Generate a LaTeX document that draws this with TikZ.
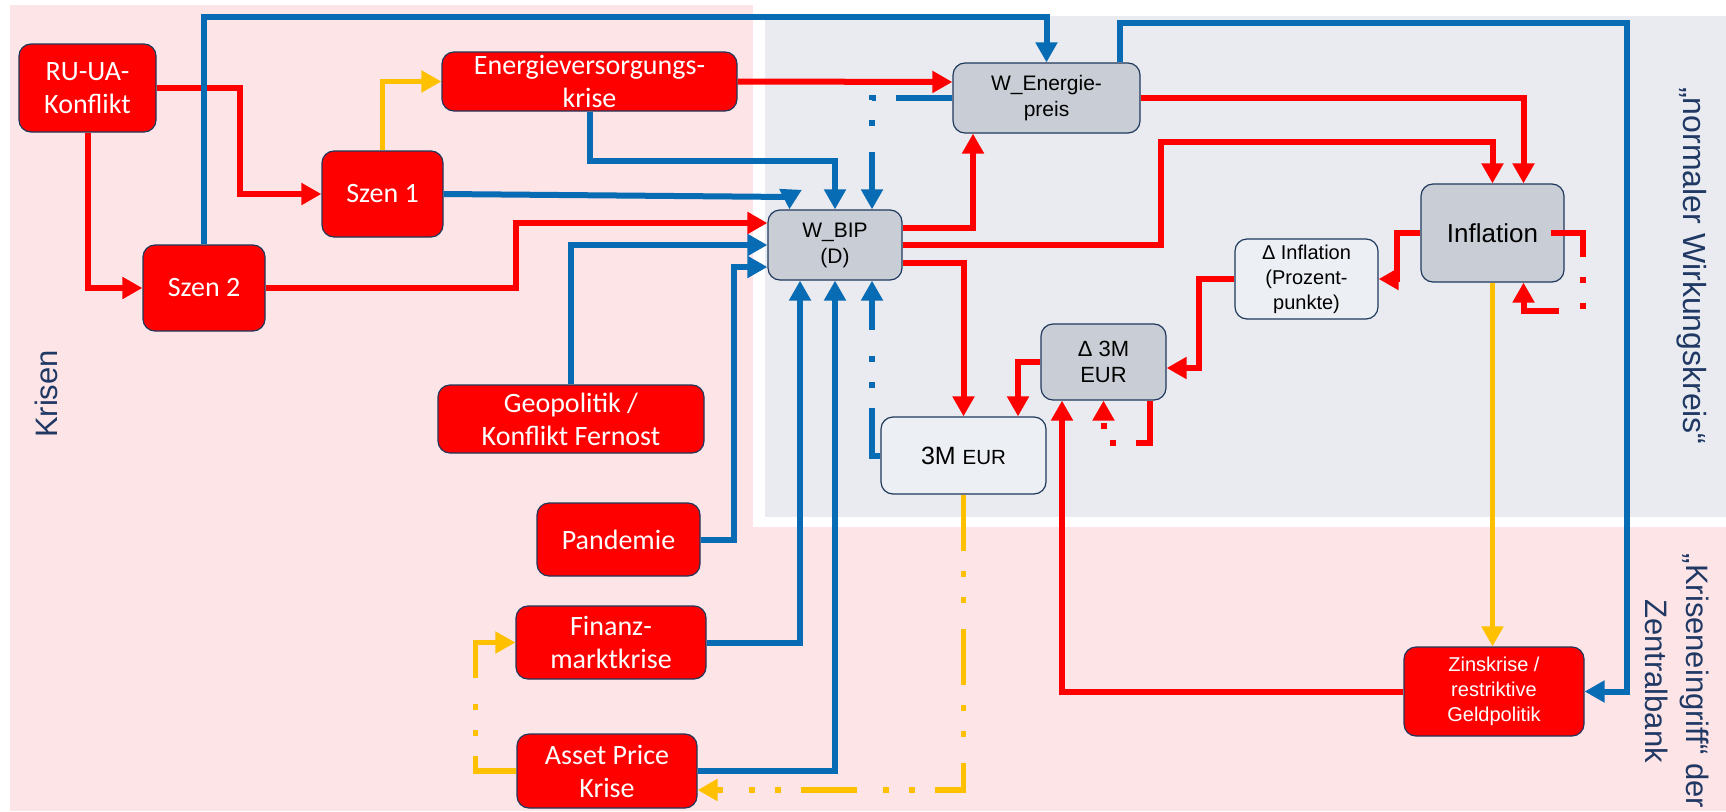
\documentclass[tikz,border=0pt]{standalone}
\usepackage{fontspec}
\usetikzlibrary{arrows.meta}
\newfontfamily\carlito{Carlito}
\newfontfamily\arialfont{Liberation Sans}

\definecolor{krisenrot}{RGB}{255,0,0}
\definecolor{flussblau}{RGB}{8,108,180}
\definecolor{flussgelb}{RGB}{255,192,0}
\definecolor{rahmen}{RGB}{31,56,92}
\definecolor{wertgrau}{RGB}{201,206,214}
\definecolor{werthell}{RGB}{236,239,244}
\definecolor{rosa}{RGB}{253,228,230}
\definecolor{hgrau}{RGB}{233,235,240}
\definecolor{schrift}{RGB}{31,56,100}

\tikzset{
  krise/.style={draw=rahmen, fill=krisenrot, line width=1.2pt, rounded corners=12pt, text=white,
    align=center, inner sep=0pt, font=\carlito\fontsize{28}{33}\selectfont},
  wert/.style={draw=rahmen, fill=wertgrau, line width=1.2pt, rounded corners=12pt, text=black,
    align=center, inner sep=0pt, font=\arialfont\fontsize{21}{26}\selectfont},
  hellwert/.style={wert, fill=werthell},
  pfeil/.style={line width=6pt, -{Triangle[length=20pt,width=21pt]}},
  rotpfeil/.style={pfeil, draw=krisenrot},
  blaupfeil/.style={pfeil, draw=flussblau},
  gelbpfeil/.style={pfeil, draw=flussgelb, line width=5.5pt},
  strichpunkt/.style={dash pattern=on 56pt off 20pt on 6pt off 20pt on 6pt off 26pt},
  seitentext/.style={text=schrift, font=\arialfont\fontsize{31}{40}\selectfont, align=center}
}

\begin{document}
\begin{tikzpicture}[x=1pt, y=-1pt]
\useasboundingbox (0,0) rectangle (1726,811);

% Draw the background areas
\fill[rosa] (10,5) rectangle (753,811);
\fill[rosa] (753,527) rectangle (1726,811);
\fill[hgrau] (765,16) rectangle (1726,517);

\node[seitentext, rotate=90] (krisentext) at (46,394) {Krisen};
\node[seitentext, rotate=-90, font=\arialfont\fontsize{32}{40}\selectfont] (kreistext) at (1692,266) {„normaler Wirkungskreis“};
\node[seitentext, rotate=-90, font=\arialfont\fontsize{31}{41}\selectfont] (eingrifftext) at (1677,681) {„Kriseneingriff“ der\\Zentralbank};

% Draw the crisis boxes
\node[krise, minimum width=137pt, minimum height=88pt] (ru) at (87.5,88) {RU-UA-\\Konflikt};
\node[krise, minimum width=295pt, minimum height=59pt] (energie) at (589.5,81.5) {Energieversorgungs-\\krise};
\node[krise, minimum width=121pt, minimum height=86pt] (szen1) at (382.5,194) {Szen 1};
\node[krise, minimum width=122pt, minimum height=86pt] (szen2) at (204,288) {Szen 2};
\node[krise, minimum width=266pt, minimum height=68pt] (geo) at (571,419) {Geopolitik /\\Konflikt Fernost};
\node[krise, minimum width=163pt, minimum height=73pt] (pandemie) at (618.5,539.5) {Pandemie};
\node[krise, minimum width=190pt, minimum height=73pt] (finanz) at (611,642.5) {Finanz-\\marktkrise};
\node[krise, minimum width=180pt, minimum height=74pt] (asset) at (607,771) {Asset Price\\Krise};
\node[krise, minimum width=180pt, minimum height=89pt, font=\arialfont\fontsize{20}{25}\selectfont] (zins) at (1494,691.5) {Zinskrise /\\restriktive\\Geldpolitik};

% Draw the value boxes
\node[wert, minimum width=134pt, minimum height=70pt] (wbip) at (835,245) {W\_BIP\\(D)};
\node[wert, minimum width=187pt, minimum height=70pt] (wenergie) at (1046.5,98) {W\_Energie-\\preis};
\node[wert, minimum width=143pt, minimum height=98pt, font=\arialfont\fontsize{26}{30}\selectfont] (inflation) at (1492.5,233) {Inflation};
\node[hellwert, minimum width=143pt, minimum height=80pt, font=\arialfont\fontsize{20}{25}\selectfont] (dinfl) at (1306.5,279) {Δ Inflation\\(Prozent-\\punkte)};
\node[wert, minimum width=125pt, minimum height=76pt, font=\arialfont\fontsize{22}{26}\selectfont] (d3m) at (1103.5,362) {Δ 3M\\EUR};
\node[hellwert, minimum width=165pt, minimum height=77pt, font=\arialfont\fontsize{25}{28}\selectfont] (m3eur) at (963.5,455.5) {3M {\fontsize{20.5}{28}\selectfont EUR}};

% Draw the red connectors
\draw[rotpfeil] (ru.east) -- ++(83,0) |- (szen1.west);
\draw[rotpfeil] (ru.south) |- (szen2.west);
\draw[rotpfeil] (szen2.east) -- ++(250,0) |- ([yshift=22pt]wbip.west);
\draw[rotpfeil] (energie.east) -- ([yshift=16pt]wenergie.west);
\draw[rotpfeil] ([yshift=17pt]wbip.east) -| ([xshift=-73.5pt]wenergie.south);
\draw[rotpfeil] (wbip.east) -- ++(258,0) -- ++(0,-103) -| (inflation.north);
\draw[rotpfeil] ([yshift=-18pt]wbip.east) -| (m3eur.north);
\draw[rotpfeil] (wenergie.east) -| ([xshift=31pt]inflation.north);
\draw[rotpfeil] (inflation.west) -- ++(-23,0) |- (dinfl.east);
\draw[rotpfeil] (dinfl.west) -- ++(-35,0) |- ([yshift=-6pt]d3m.east);
\draw[rotpfeil] (d3m.west) -| ([xshift=54.5pt]m3eur.north);
\draw[rotpfeil] (zins.west) -| ([xshift=-41.5pt]d3m.south);
\draw[rotpfeil, strichpunkt] ([xshift=46pt]d3m.south) -- ++(0,42) -| (d3m.south);
\draw[rotpfeil, strichpunkt] ([xshift=-14pt]inflation.east) -- ++(32,0) -- ++(0,78) -| ([xshift=31pt]inflation.south);

% Draw the blue connectors
\draw[blaupfeil] (szen2.north) |- (1046.5,17) -- (wenergie.north);
\draw[blaupfeil] (energie.south) -- ++(0,49) -| (wbip.north);
\draw[blaupfeil] (szen1.east) -- (790,197) -- ([xshift=22pt]wbip.north west);
\draw[blaupfeil] (geo.north) |- (wbip.west);
\draw[blaupfeil] (pandemie.east) -- ++(33,0) |- ([yshift=-22pt]wbip.west);
\draw[blaupfeil] (finanz.east) -| ([xshift=-35pt]wbip.south);
\draw[blaupfeil] (asset.east) -| (wbip.south);
\draw[blaupfeil, strichpunkt] (m3eur.west) -| ([xshift=37pt]wbip.south);
\draw[blaupfeil, strichpunkt] (wenergie.west) -| ([xshift=37pt]wbip.north);
\draw[blaupfeil] ([xshift=73.5pt]wenergie.north) |- (1627,23) |- (zins.east);

% Draw the yellow connectors
\draw[gelbpfeil] (szen1.north) |- (energie.west);
\draw[gelbpfeil] (inflation.south) -- (inflation.south |- zins.north);
\draw[gelbpfeil, strichpunkt] (m3eur.south) |- ([yshift=-19pt]asset.east);
\draw[gelbpfeil, strichpunkt] (asset.west) -- ++(-41,0) |- (finanz.west);
\end{tikzpicture}
\end{document}
